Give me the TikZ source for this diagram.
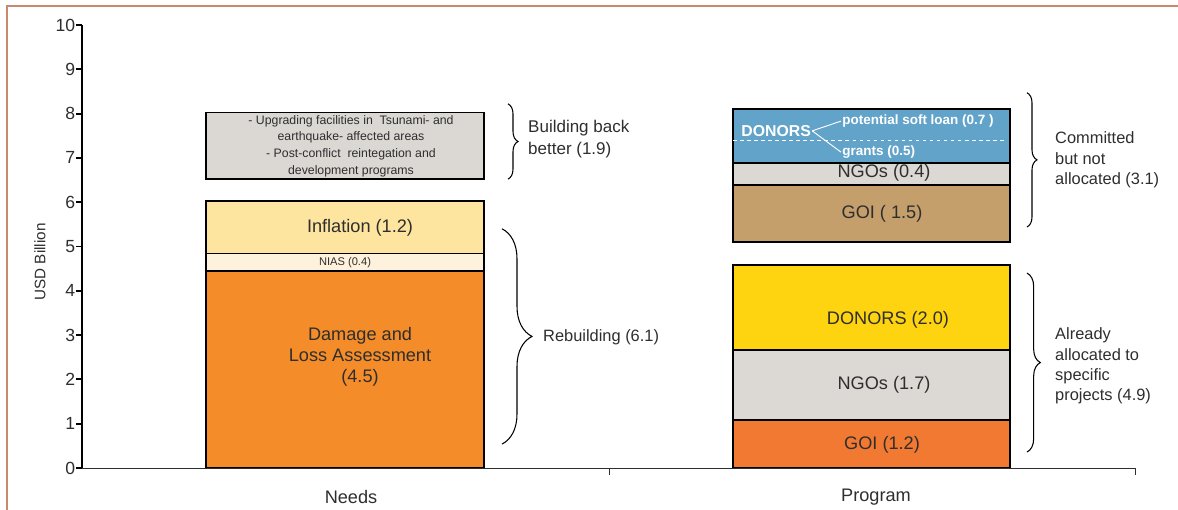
\documentclass[tikz,border=0pt]{standalone}
\usepackage{fontspec}
\setmainfont{Liberation Sans}
\usetikzlibrary{decorations.pathreplacing}
\definecolor{frameline}{HTML}{C8896C}
\definecolor{txt}{HTML}{2E2E2E}
\definecolor{dlaorange}{HTML}{F48D29}
\definecolor{niascream}{HTML}{FFF2DC}
\definecolor{inflyellow}{HTML}{FDE49F}
\definecolor{bbbgrey}{HTML}{DBD8D4}
\definecolor{goiorange}{HTML}{F27931}
\definecolor{ngogrey}{HTML}{DCD9D5}
\definecolor{donyellow}{HTML}{FDD40F}
\definecolor{goibrown}{HTML}{C59F6B}
\definecolor{donblue}{HTML}{62A3CA}
\begin{document}
\begin{tikzpicture}[x=0.03cm,y=1.329cm,
    bar/.style={draw=black,line width=1.2pt},
    lbl/.style={text=txt,font=\fontsize{15.5}{18}\selectfont,align=center,inner sep=0pt},
    small/.style={text=txt,font=\fontsize{10.5}{14.2}\selectfont,align=center,inner sep=0pt},
    side/.style={text=txt,font=\fontsize{14}{17.5}\selectfont,align=left,anchor=west,inner sep=0pt},
    wlbl/.style={text=white,font=\bfseries\fontsize{11.5}{13}\selectfont,anchor=west,inner sep=1pt},
    wline/.style={draw=white,line width=0.8pt},
    ticklbl/.style={text=txt,font=\fontsize{15}{17}\selectfont,anchor=east,inner sep=0pt},
    curly/.style={decorate,line width=0.9pt,black}]
    \useasboundingbox (-82,-0.948) rectangle (1096,10.564);
    \draw[frameline,line width=1.5pt] (-75,-0.948) -- (-75,10.429) -- (1096,10.429);
    \draw[bar,fill=dlaorange] (124,0) rectangle (402,4.45);
    \draw[bar,fill=niascream] (124,4.45) rectangle (402,4.84);
    \draw[bar,fill=inflyellow] (124,4.84) rectangle (402,6.03);
    \draw[bar,fill=bbbgrey] (124,6.52) rectangle (402,8.02);
    \draw[bar,fill=goiorange] (651,0) rectangle (928,1.08);
    \draw[bar,fill=ngogrey] (651,1.08) rectangle (928,2.66);
    \draw[bar,fill=donyellow] (651,2.66) rectangle (928,4.58);
    \draw[bar,fill=goibrown] (651,5.10) rectangle (928,6.39);
    \draw[bar,fill=ngogrey] (651,6.39) rectangle (928,6.88);
    \draw[bar,fill=donblue] (651,6.88) rectangle (928,8.10);
    \draw[wline,dashed] (651,7.40) -- (925,7.40);
    \draw[txt,line width=0.6pt] (0,0) -- (1053,0);
    \draw[txt,line width=0.6pt] (527,0) -- (527,-0.16);
    \draw[txt,line width=0.6pt] (1053,0) -- (1053,-0.16);
    \draw[black,line width=1.6pt] (0,0) -- (0,10);
    \foreach \v in {0,...,10}
        \draw[black,line width=1.6pt] (0,\v) -- (-6,\v) node[ticklbl] (y\v) {\v};
    \node[text=txt,font=\fontsize{13}{15}\selectfont,rotate=90] (ylab) at (-42,4.65) {USD Billion};
    \node[lbl] (needs) at (269,-0.655) {Needs};
    \node[lbl] (program) at (794,-0.655) {Program};
    \node[lbl] (dla) at (278,2.51) {Damage and\\Loss Assessment\\(4.5)};
    \node[small,font=\fontsize{9.5}{11}\selectfont] (nias) at (263,4.645) {NIAS (0.4)};
    \node[lbl] (infl) at (278,5.42) {Inflation (1.2)};
    \node[small] (bbb) at (269,7.27) {- Upgrading facilities in \ Tsunami- and\\earthquake- affected areas\\- Post-conflict \ reintegation and\\development programs};
    \node[lbl] (goia) at (800,0.52) {GOI (1.2)};
    \node[lbl] (ngoa) at (802,1.87) {NGOs (1.7)};
    \node[lbl] (dona) at (806,3.34) {DONORS (2.0)};
    \node[lbl] (goib) at (800,5.73) {GOI ( 1.5)};
    \node[lbl] (ngob) at (802,6.66) {NGOs (0.4)};
    \node[wlbl,font=\bfseries\fontsize{13.5}{15}\selectfont] (donb) at (658,7.61) {DONORS};
    \node[wlbl] (loan) at (759,7.83) {potential soft loan (0.7 )};
    \node[wlbl] (grants) at (759,7.13) {grants (0.5)};
    \draw[wline] (donb.east) -- (loan.west);
    \draw[wline] (donb.east) -- (grants.west);
    \draw[curly,decoration={brace,amplitude=0.3cm}] (426,8.22) -- (426,6.52);
    \draw[curly,decoration={brace,amplitude=0.9cm}] (420,5.40) -- (420,0.54);
    \draw[curly,decoration={brace,amplitude=0.3cm}] (945,8.47) -- (945,5.44);
    \draw[curly,decoration={brace,amplitude=0.4cm}] (945,4.40) -- (945,0.36);
    \node[side,font=\fontsize{14.5}{18.9}\selectfont] (better) at (446,7.43) {Building back\\better (1.9)};
    \node[side] (rebuild) at (461,2.96) {Rebuilding (6.1)};
    \node[side] (commit) at (973,6.95) {Committed\\but not\\allocated (3.1)};
    \node[side,font=\fontsize{14}{17.3}\selectfont] (already) at (973,2.30) {Already\\allocated to\\specific\\projects (4.9)};
\end{tikzpicture}
\end{document}
